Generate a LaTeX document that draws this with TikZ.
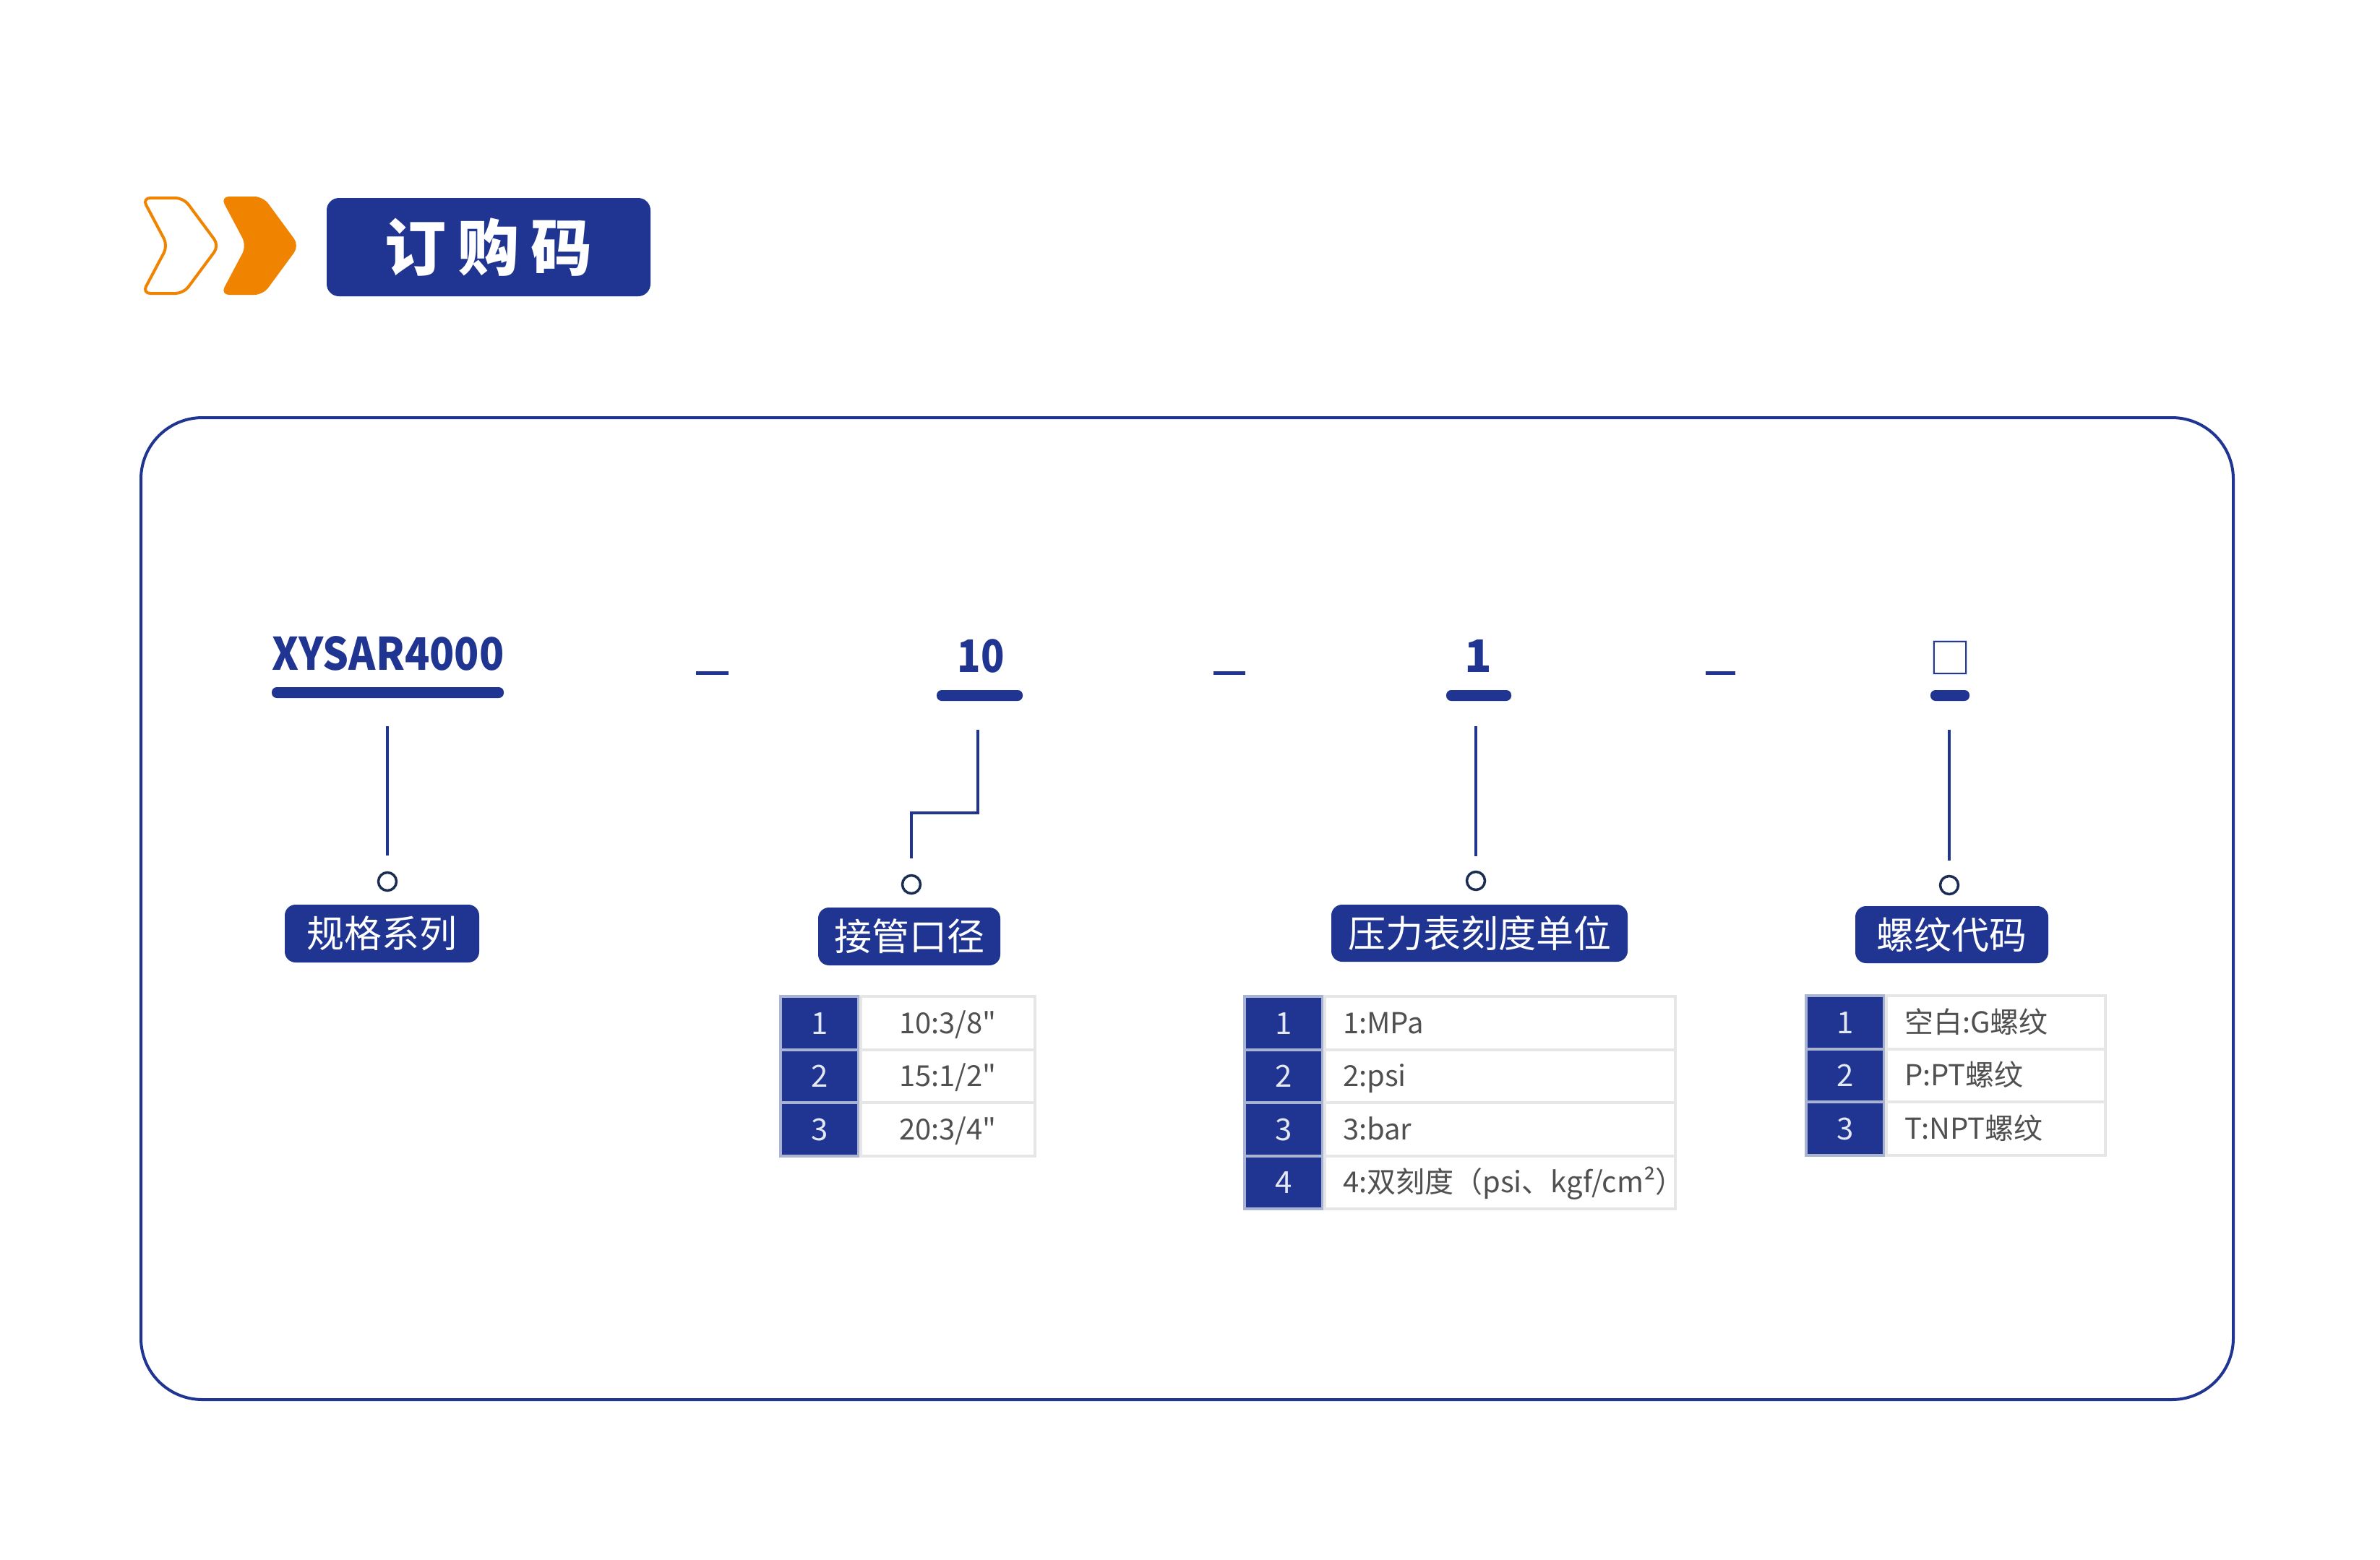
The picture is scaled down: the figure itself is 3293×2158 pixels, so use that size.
\documentclass[tikz,border=0pt]{standalone}
\usepackage{fontspec}
\newfontfamily\cjk{Noto Sans CJK SC}
\definecolor{blueC}{HTML}{1F3591}
\definecolor{lblue}{HTML}{A8B4D2}
\definecolor{grayB}{HTML}{E6E6E6}
\definecolor{grayT}{HTML}{505050}
\definecolor{numC}{HTML}{E4E8F2}
\definecolor{dotC}{HTML}{1B2D50}
\definecolor{orangeC}{HTML}{F08300}
\tikzset{
  codetxt/.style={text=blueC, font=\cjk\bfseries\fontsize{62}{70}\selectfont, inner sep=0pt, text height=50pt, text depth=9pt},
  codebar/.style={fill=blueC, rounded corners=7pt, minimum height=15pt, inner sep=0pt},
  conn/.style={draw=blueC, line width=3.5pt},
  dashln/.style={draw=blueC, line width=5pt},
  ring/.style={circle, draw=dotC, line width=3.5pt, minimum size=25pt, inner sep=0pt},
  lab/.style={fill=blueC, text=white, rounded corners=15pt, minimum height=80pt, inner sep=0pt, font=\cjk\fontsize{52}{60}\selectfont, text height=48pt, text depth=9pt},
  numcell/.style={fill=blueC, draw=lblue, line width=4pt, text=numC, font=\cjk\fontsize{42}{50}\selectfont, minimum width=108pt, minimum height=73.5pt, inner sep=0pt, text height=40pt, text depth=9.5pt},
  valcell/.style={fill=white, draw=grayB, line width=4pt, text=grayT, font=\cjk\fontsize{40}{48}\selectfont, minimum height=73.5pt, inner sep=0pt, text height=38pt, text depth=9pt},
  valL/.style={valcell, text width=#1, align=left, inner xsep=25pt},
  titlebox/.style={fill=blueC, text=white, rounded corners=17pt, minimum width=448pt, minimum height=136pt, inner sep=0pt, font=\cjk\bfseries\fontsize{85}{95}\selectfont, text height=75pt, text depth=11pt},
}
\begin{document}
\begin{tikzpicture}[x=1pt,y=-1pt]
\useasboundingbox (0,0) rectangle (3293,2158);
\fill[white] (0,0) rectangle (3293,2158);

% header chevrons
\draw[orangeC, line width=4pt, rounded corners=11pt, line join=round]
  (197,274) -- (254,274) -- (303,340) -- (254,406) -- (197,406) -- (232,340) -- cycle;
\fill[orangeC, rounded corners=12pt]
  (305,272) -- (364,272) -- (414,340) -- (364,408) -- (305,408) -- (341,340) -- cycle;
\node[titlebox] (ttl) at (676,342) {订\hspace{16pt}购\hspace{16pt}码};

% frame
\draw[blueC, line width=4pt, rounded corners=85pt] (195,578) rectangle (3090,1937);

% code row
\node[codetxt] (c1) at (537,907) {\scalebox{0.91}[1]{XYSAR4000}};
\node[codebar, minimum width=321pt] (b1) at (536.5,958.5) {};
\node[codetxt] (c2) at (1357,910) {\scalebox{0.86}[1]{10}};
\node[codebar, minimum width=119pt] (b2) at (1355.5,962.5) {};
\node[codetxt] (c3) at (2045,910) {1};
\node[codebar, minimum width=90pt] (b3) at (2046,962.5) {};
\node[text=blueC, font=\cjk\fontsize{58}{64}\selectfont, inner sep=0pt, text height=46pt, text depth=5pt] (c4) at (2698,912) {□};
\node[codebar, minimum width=54pt] (b4) at (2698,962.5) {};

% separators
\coordinate (d1a) at (963,931); \coordinate (d1b) at (1008,931);
\coordinate (d2a) at (1679,931); \coordinate (d2b) at (1723,931);
\coordinate (d3a) at (2360,931); \coordinate (d3b) at (2401,931);
\draw[dashln] (d1a) -- (d1b);
\draw[dashln] (d2a) -- (d2b);
\draw[dashln] (d3a) -- (d3b);

% rings
\node[ring] (o1) at (536,1220) {};
\node[ring] (o2) at (1261,1224) {};
\node[ring] (o3) at (2042,1219) {};
\node[ring] (o4) at (2697,1225) {};

% connectors
\coordinate (v1a) at (536,1005); \coordinate (v1b) at (536,1184);
\draw[conn] (v1a) -- (v1b);
\coordinate (v2a) at (1353,1010); \coordinate (v2m) at (1353,1125);
\coordinate (v2n) at (1261,1125); \coordinate (v2b) at (1261,1188);
\draw[conn, line join=miter] (v2a) -- (v2m) -- (v2n) -- (v2b);
\coordinate (v3a) at (2042,1005); \coordinate (v3b) at (2042,1185);
\draw[conn] (v3a) -- (v3b);
\coordinate (v4a) at (2697,1010); \coordinate (v4b) at (2697,1191);
\draw[conn] (v4a) -- (v4b);

% labels
\node[lab, minimum width=269pt] (l1) at (528.5,1292) {规格系列};
\node[lab, minimum width=252pt] (l2) at (1258,1296) {接管口径};
\node[lab, minimum width=410pt, minimum height=79pt] (l3) at (2047,1291.5) {压力表刻度单位};
\node[lab, minimum width=267pt, minimum height=79pt] (l4) at (2700.5,1293.5) {螺纹代码};

% table 1
\node[numcell] (t1n1) at (1134,1415.75) {1};
\node[numcell] (t1n2) at (1134,1489.25) {2};
\node[numcell] (t1n3) at (1134,1562.75) {3};
\node[valcell, minimum width=241pt] (t1v1) at (1311.5,1415.75) {10:3/8"};
\node[valcell, minimum width=241pt] (t1v2) at (1311.5,1489.25) {15:1/2"};
\node[valcell, minimum width=241pt] (t1v3) at (1311.5,1562.75) {20:3/4"};

% table 2
\node[numcell] (t2n1) at (1776,1415.75) {1};
\node[numcell] (t2n2) at (1776,1489.25) {2};
\node[numcell] (t2n3) at (1776,1562.75) {3};
\node[numcell] (t2n4) at (1776,1636.25) {4};
\node[valL=435pt] (t2v1) at (2075.5,1415.75) {1:MPa};
\node[valL=435pt] (t2v2) at (2075.5,1489.25) {2:psi};
\node[valL=435pt] (t2v3) at (2075.5,1562.75) {3:bar};
\node[valL=435pt] (t2v4) at (2075.5,1636.25) {4:双刻度（psi、kgf/cm²）};

% table 3
\node[numcell] (t3n1) at (2553,1414.75) {1};
\node[numcell] (t3n2) at (2553,1488.25) {2};
\node[numcell] (t3n3) at (2553,1561.75) {3};
\node[valL=253pt] (t3v1) at (2761.5,1414.75) {空白:G螺纹};
\node[valL=253pt] (t3v2) at (2761.5,1488.25) {P:PT螺纹};
\node[valL=253pt] (t3v3) at (2761.5,1561.75) {T:NPT螺纹};
\end{tikzpicture}
\end{document}
